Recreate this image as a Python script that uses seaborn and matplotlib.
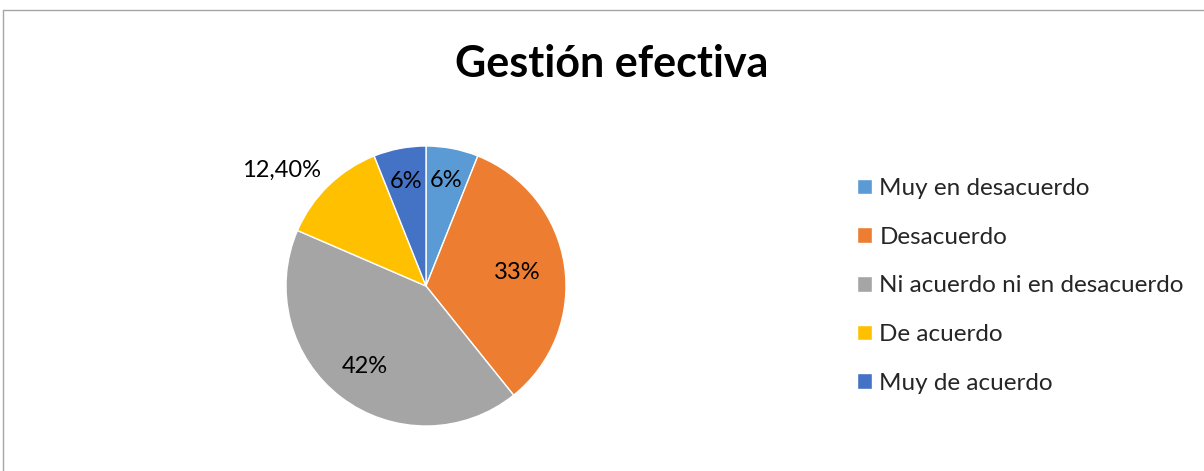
import matplotlib
matplotlib.use("Agg")
import matplotlib.pyplot as plt
import seaborn as sns
import numpy as np
from matplotlib.lines import Line2D

categorias = ["Muy en desacuerdo", "Desacuerdo", "Ni acuerdo ni en desacuerdo",
              "De acuerdo", "Muy de acuerdo"]
valores = [6, 33, 42, 12.4, 6]
etiquetas = ["6%", "33%", "42%", "12,40%", "6%"]
colores = ["#5B9BD5", "#ED7D31", "#A5A5A5", "#FFC000", "#4472C4"]

sns.set_style("white")
plt.rcParams["font.family"] = ["Lato", "DejaVu Sans"]

fig = plt.figure(figsize=(12.04, 4.71), dpi=100)
ax = fig.add_axes([(426 - 140) / 1204, (471 - 286 - 140) / 471, 280 / 1204, 280 / 471])

wedges, _ = ax.pie(valores, colors=colores, startangle=90, counterclock=False,
                   wedgeprops=dict(edgecolor="white", linewidth=1))
ax.set_xlim(-1, 1)
ax.set_ylim(-1, 1)
ax.axis("off")

# distancia y giro de cada etiqueta (como en el original)
dist = [0.77, 0.66, 0.72, 1.32, 0.76]
giro = [0, 0, 0, 7, 0]
for w, txt, d, g in zip(wedges, etiquetas, dist, giro):
    ang = np.deg2rad((w.theta1 + w.theta2) / 2 + g)
    ax.text(d * np.cos(ang), d * np.sin(ang), txt, ha="center", va="center",
            fontsize=17, color="black")

fig.text(612 / 1204, 1 - 64 / 471, "Gestión efectiva", ha="center", va="center",
         fontsize=31, fontweight="bold", color="black")

fig.legend(wedges, categorias, loc="upper left",
           bbox_to_anchor=(857 / 1204, 1 - 178 / 471), frameon=False,
           fontsize=17.5, labelspacing=1.14, handlelength=0.62, handleheight=0.62,
           handletextpad=0.3, borderpad=0, borderaxespad=0)

fig.add_artist(Line2D([3 / 1204, 1], [1 - 10 / 471, 1 - 10 / 471], color="#A6A6A6", lw=1))
fig.add_artist(Line2D([3 / 1204, 3 / 1204], [0, 1 - 10 / 471], color="#A6A6A6", lw=1))

fig.savefig("out.png", dpi=100)
